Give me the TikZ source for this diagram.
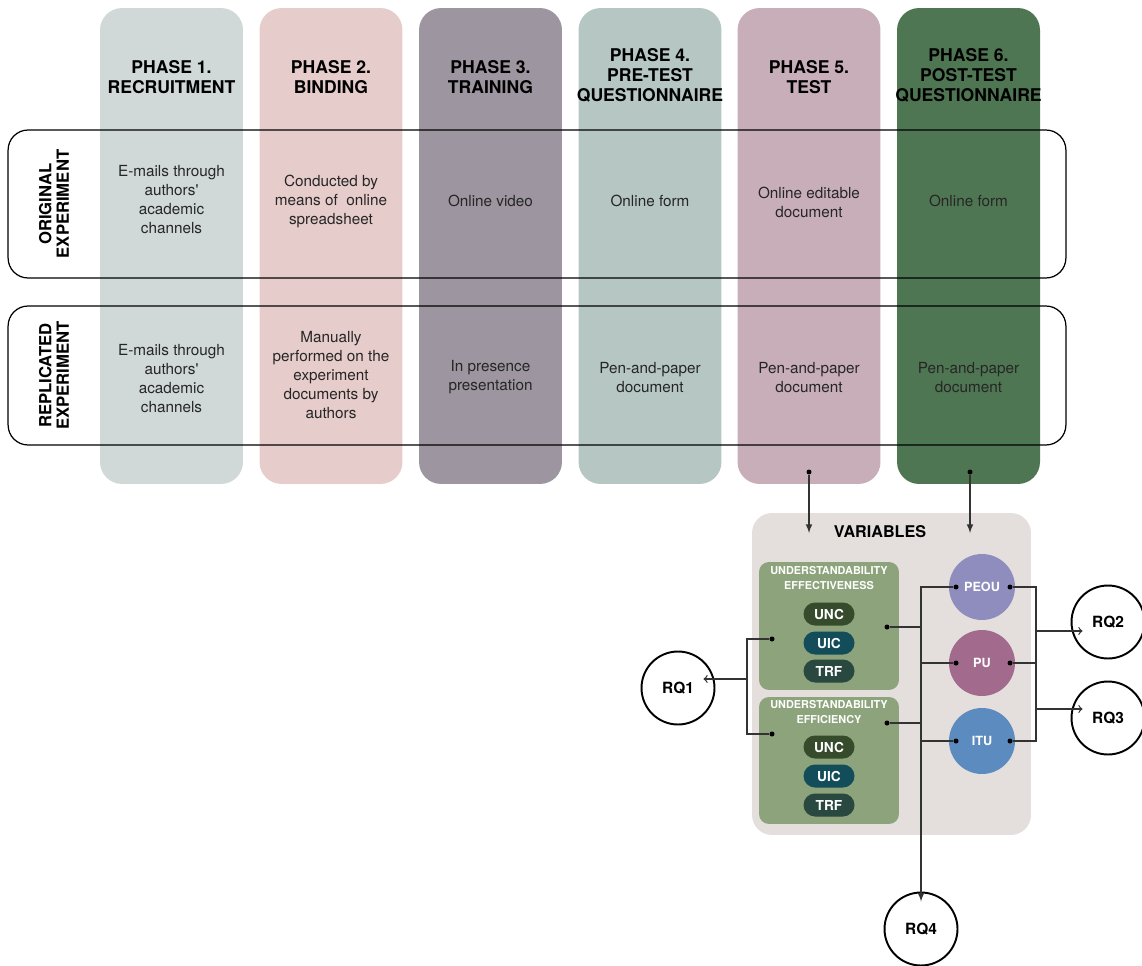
\documentclass[tikz,border=0pt]{standalone}
\usepackage{fontspec}
\setmainfont{TeX Gyre Heros}

\definecolor{phaseA}{HTML}{D0D9D8}
\definecolor{phaseB}{HTML}{E6CCCA}
\definecolor{phaseC}{HTML}{9D959F}
\definecolor{phaseD}{HTML}{B6C7C3}
\definecolor{phaseE}{HTML}{C8AEB8}
\definecolor{phaseF}{HTML}{4F7652}
\definecolor{varbg}{HTML}{E4DFDD}
\definecolor{unbox}{HTML}{8CA37B}
\definecolor{uncC}{HTML}{364A2C}
\definecolor{uicC}{HTML}{134D5A}
\definecolor{trfC}{HTML}{29483F}
\definecolor{peouC}{HTML}{8E8DBD}
\definecolor{puC}{HTML}{A26A8D}
\definecolor{ituC}{HTML}{5B8BBF}

\begin{document}
\begin{tikzpicture}[>=latex, x=0.02cm, y=-0.02cm]

\tikzstyle{phase}=[rounded corners=0.44cm, minimum width=2.86cm, minimum height=9.52cm, inner sep=0]
\tikzstyle{ptitle}=[align=center, font=\bfseries\fontsize{10}{11.4}\selectfont]
\tikzstyle{celltxt}=[align=center, text=black!85, font=\fontsize{8.7}{10.8}\selectfont]
\tikzstyle{rowbox}=[draw, rounded corners=0.4cm, minimum width=21.16cm, line width=0.7pt]
\tikzstyle{rowlbl}=[rotate=90, align=center, font=\bfseries\fontsize{9.5}{10}\selectfont]
\tikzstyle{ubox}=[fill=unbox, rounded corners=0.2cm, minimum width=2.8cm, inner sep=0]
\tikzstyle{ulbl}=[align=center, text=white, font=\bfseries\fontsize{6.2}{8.6}\selectfont]
\tikzstyle{pill}=[rounded corners=0.23cm, minimum width=1.02cm, minimum height=0.46cm, text=white, font=\bfseries\fontsize{7.8}{9}\selectfont, inner sep=0]
\tikzstyle{varc}=[circle, minimum size=1.32cm, text=white, font=\bfseries\fontsize{7.2}{9}\selectfont, inner sep=0]
\tikzstyle{rq}=[circle, draw, line width=1.1pt, fill=white, minimum size=1.46cm, font=\bfseries\fontsize{8.8}{10}\selectfont, inner sep=0]
\tikzstyle{jdot}=[circle, fill=black, minimum size=0.1cm, inner sep=0]
\tikzstyle{wire}=[line width=0.7pt, black!80]

\useasboundingbox (0,0) rectangle (1142,966);

% --- phase columns ---
\node[phase, fill=phaseA] (p1) at (171.5,246) {};
\node[phase, fill=phaseB] (p2) at (331,246) {};
\node[phase, fill=phaseC] (p3) at (490.5,246) {};
\node[phase, fill=phaseD] (p4) at (650,246) {};
\node[phase, fill=phaseE] (p5) at (809,246) {};
\node[phase, fill=phaseF] (p6) at (968.5,246) {};

\node[ptitle] (t1) at (171.5,77) {PHASE 1.\\RECRUITMENT};
\node[ptitle] (t2) at (331,77) {PHASE 2.\\BINDING};
\node[ptitle] (t3) at (490.5,77) {PHASE 3.\\TRAINING};
\node[ptitle] (t4) at (650,75) {PHASE 4.\\PRE-TEST\\QUESTIONNAIRE};
\node[ptitle] (t5) at (809,77) {PHASE 5.\\TEST};
\node[ptitle] (t6) at (968.5,75) {PHASE 6.\\POST-TEST\\QUESTIONNAIRE};

% --- original experiment ---
\node[celltxt] (o1) at (171.5,200) {E-mails through\\authors\textquotesingle\\academic\\channels};
\node[celltxt] (o2) at (331,201) {Conducted by\\means of \ online\\spreadsheet};
\node[celltxt] (o3) at (490.5,201) {Online video};
\node[celltxt] (o4) at (650,201) {Online form};
\node[celltxt] (o5) at (809,202) {Online editable\\document};
\node[celltxt] (o6) at (968.5,201) {Online form};

% --- replicated experiment ---
\node[celltxt] (r1) at (171.5,379) {E-mails through\\authors\textquotesingle\\academic\\channels};
\node[celltxt] (r2) at (331,375) {Manually\\performed on the\\experiment\\documents by\\authors};
\node[celltxt] (r3) at (490.5,377) {In presence\\presentation};
\node[celltxt] (r4) at (650,378) {Pen-and-paper\\document};
\node[celltxt] (r5) at (809,378) {Pen-and-paper\\document};
\node[celltxt] (r6) at (968.5,378) {Pen-and-paper\\document};

\node[rowbox, minimum height=2.96cm] (orig) at (537,204) {};
\node[rowbox, minimum height=2.78cm] (repl) at (537,375.5) {};
\node[rowlbl] (lo) at (54,204) {ORIGINAL\\EXPERIMENT};
\node[rowlbl] (lr) at (54,375.5) {REPLICATED\\EXPERIMENT};

% --- variables ---
\node[fill=varbg, rounded corners=0.4cm, minimum width=5.58cm, minimum height=6.44cm] (vars) at (891.5,674) {};
\node[font=\bfseries\fontsize{9.2}{10}\selectfont] (vt) at (880,532) {VARIABLES};

\node[ubox, minimum height=2.56cm] (ueff) at (829,626) {};
\node[ubox, minimum height=2.54cm] (ueffi) at (829,760.5) {};
\node[ulbl] (leff) at (829,578) {UNDERSTANDABILITY\\EFFECTIVENESS};
\node[ulbl] (leffi) at (829,712) {UNDERSTANDABILITY\\EFFICIENCY};

\node[pill, fill=uncC] (unc1) at (829,614) {UNC};
\node[pill, fill=uicC] (uic1) at (829,643) {UIC};
\node[pill, fill=trfC] (trf1) at (829,671) {TRF};
\node[pill, fill=uncC] (unc2) at (829,747) {UNC};
\node[pill, fill=uicC] (uic2) at (829,776) {UIC};
\node[pill, fill=trfC] (trf2) at (829,805) {TRF};

\node[varc, fill=peouC] (peou) at (982,587) {PEOU};
\node[varc, fill=puC] (pu) at (982,663) {PU};
\node[varc, fill=ituC] (itu) at (982,741) {ITU};

% --- research questions ---
\node[rq] (rq1) at (678,688) {RQ1};
\node[rq] (rq2) at (1108,622) {RQ2};
\node[rq] (rq3) at (1108,718) {RQ3};
\node[rq] (rq4) at (921,929) {RQ4};

% --- connectors ---
\node[jdot] (d5) at (809,472) {};
\node[jdot] (d6) at (970,472) {};
\coordinate (v5) at (809,533);
\coordinate (v6) at (970,533);
\draw[wire, ->] (d5) -- (v5);
\draw[wire, ->] (d6) -- (v6);

\node[jdot] (e1) at (887,627) {};
\node[jdot] (e2) at (887,723) {};
\node[jdot] (pl) at (956,587) {};
\node[jdot] (ul) at (956,663) {};
\node[jdot] (il) at (956,741) {};
\draw[wire, ->, shorten >=-0.2cm] (pl) -| (rq4.north);
\draw[wire] (e1) -- (e1 -| rq4.north);
\draw[wire] (e2) -- (e2 -| rq4.north);
\draw[wire] (ul) -- (ul -| rq4.north);
\draw[wire] (il) -- (il -| rq4.north);

\node[jdot] (pr) at (1010,587) {};
\node[jdot] (ur) at (1010,663) {};
\node[jdot] (ir) at (1010,741) {};
\coordinate (bR) at (1036,663);
\draw[wire] (pr) -| (bR) |- (ir);
\draw[wire] (ur) -- (bR);
\coordinate (q2) at (1036,631);
\coordinate (q3) at (1036,709);
\draw[wire, -to] (q2) -- ([xshift=0.24cm]q2 -| rq2.west);
\draw[wire, -to] (q3) -- ([xshift=0.24cm]q3 -| rq3.west);

\node[jdot] (a1) at (772,639) {};
\node[jdot] (a2) at (772,734) {};
\coordinate (bL) at (747,679);
\draw[wire] (a1) -| (bL) |- (a2);
\draw[wire, -to] (bL) -- ([xshift=-0.24cm]bL -| rq1.east);

\end{tikzpicture}
\end{document}
